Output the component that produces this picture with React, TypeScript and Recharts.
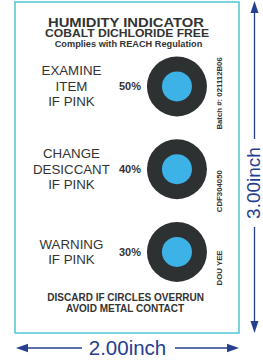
import { ScatterChart, Scatter, XAxis, YAxis, ReferenceArea } from 'recharts';

// humidity levels printed on the card, top to bottom
const levels = [50, 40, 30];
const actions = [
  ['EXAMINE', 'ITEM', 'IF PINK'],
  ['CHANGE', 'DESICCANT', 'IF PINK'],
  ['WARNING', 'IF PINK'],
];
const codes = ['Batch #: 021112B06', 'CDF304050', 'DOU YEE'];
const headerLines = ['HUMIDITY INDICATOR', 'COBALT DICHLORIDE FREE', 'Complies with REACH Regulation'];
const footerLines = ['DISCARD IF CIRCLES OVERRUN', 'AVOID METAL CONTACT'];
const cardWidthIn = 2.0;
const cardHeightIn = 3.0;

const W = 263;
const H = 363;
const margin = { top: 2, right: 24, bottom: 30, left: 15 };
const plotW = W - margin.left - margin.right;
const plotH = H - margin.top - margin.bottom;

// column positions across the card, in inches
const LABEL_COL = 0.504;
const PCT_COL = 1.027;
const DOT_COL = 1.446;
const CODE_COL = 1.82;
const codeShift = [7, 22, 16];

const TEXT = '#333333';
const BLUE = '#25408f';
const CYAN = '#4fc5d5';
const FONT = '"Liberation Sans", Arial, sans-serif';

const rows = levels.map((level, i) => ({ level, pct: `${level}%`, action: actions[i], code: codes[i], idx: i }));

const dotRows = rows.map((r) => ({ ...r, x: DOT_COL }));
const labelRows = rows.map((r) => ({ ...r, x: LABEL_COL }));
const pctRows = rows.map((r) => ({ ...r, x: PCT_COL }));
const codeRows = rows.map((r) => ({ ...r, x: CODE_COL }));

const Indicator = (p: any) => (
  <g>
    <circle cx={p.cx} cy={p.cy} r={30} fill="#2d3131" />
    <circle cx={p.cx} cy={p.cy} r={15} fill="#3cb2e6" />
  </g>
);

const ActionLabel = (p: any) => {
  const lines: string[] = p.payload.action;
  const lh = 15.5;
  const first = p.cy + 4.5 - ((lines.length - 1) * lh) / 2;
  return (
    <text textAnchor="middle" fontFamily={FONT} fontSize={13.3} fill={TEXT}>
      {lines.map((t, i) => (
        <tspan key={i} x={p.cx} y={first + i * lh}>
          {t}
        </tspan>
      ))}
    </text>
  );
};

const PctLabel = (p: any) => (
  <text x={p.cx} y={p.cy + 4} textAnchor="middle" fontFamily={FONT} fontSize={11} fontWeight="bold" fill={TEXT}>
    {p.payload.pct}
  </text>
);

const CodeLabel = (p: any) => {
  const y = p.cy + codeShift[p.payload.idx];
  return (
    <text
      x={p.cx}
      y={y}
      transform={`rotate(-90 ${p.cx} ${y})`}
      textAnchor="middle"
      dy="0.35em"
      fontFamily={FONT}
      fontSize={7.8}
      fontWeight="bold"
      fill={TEXT}
    >
      {p.payload.code}
    </text>
  );
};

export default function App() {
  const cx = margin.left + plotW / 2;
  const right = margin.left + plotW;
  const bottom = margin.top + plotH;
  const vx = 254.5;
  const vMid = 183;
  const hy = 348;
  return (
    <div style={{ position: 'absolute', left: 0, top: 0, width: W, height: H, background: '#fff' }}>
      <ScatterChart width={W} height={H} margin={margin}>
        <XAxis type="number" dataKey="x" domain={[0, cardWidthIn]} hide allowDataOverflow />
        <YAxis type="number" dataKey="level" domain={[20.2, 60.2]} hide allowDataOverflow />
        <ReferenceArea x1={0} x2={cardWidthIn} y1={20.2} y2={60.2} fill="none" stroke={CYAN} strokeWidth={1.5} />
        <Scatter data={dotRows} shape={Indicator} isAnimationActive={false} />
        <Scatter data={labelRows} shape={ActionLabel} isAnimationActive={false} />
        <Scatter data={pctRows} shape={PctLabel} isAnimationActive={false} />
        <Scatter data={codeRows} shape={CodeLabel} isAnimationActive={false} />

        <g fontFamily={FONT} fontWeight="bold" fill={TEXT} textAnchor="middle">
          <text x={126} y={26.5} fontSize={13} textLength={156} lengthAdjust="spacingAndGlyphs">{headerLines[0]}</text>
          <text x={127} y={37.3} fontSize={10.2} textLength={164} lengthAdjust="spacingAndGlyphs">{headerLines[1]}</text>
          <text x={128.5} y={46.7} fontSize={9.2}>{headerLines[2]}</text>
          <text x={125.7} y={301} fontSize={10}>{footerLines[0]}</text>
          <text x={125} y={311.7} fontSize={10}>{footerLines[1]}</text>
        </g>

        {/* dimension arrows */}
        <g stroke={BLUE} strokeWidth={1.3} fill={BLUE}>
          <line x1={vx} y1={10} x2={vx} y2={vMid - 44} />
          <line x1={vx} y1={vMid + 44} x2={vx} y2={bottom - 8} />
          <polygon points={`${vx},1 ${vx - 4},13 ${vx + 4},13`} stroke="none" />
          <polygon points={`${vx},${bottom} ${vx - 4},${bottom - 12} ${vx + 4},${bottom - 12}`} stroke="none" />
          <line x1={margin.left + 8} y1={hy} x2={82} y2={hy} />
          <line x1={175} y1={hy} x2={right - 8} y2={hy} />
          <polygon points={`${margin.left + 1},${hy} ${margin.left + 13},${hy - 4.3} ${margin.left + 13},${hy + 4.3}`} stroke="none" />
          <polygon points={`${right},${hy} ${right - 12},${hy - 4.3} ${right - 12},${hy + 4.3}`} stroke="none" />
        </g>
        <text
          x={vx + 5.5}
          y={vMid}
          transform={`rotate(-90 ${vx + 5.5} ${vMid})`}
          textAnchor="middle"
          fontFamily={FONT}
          fontSize={19}
          fill={BLUE}
        >
          {cardHeightIn.toFixed(2)}inch
        </text>
        <text x={cx + 0.5} y={355} textAnchor="middle" fontFamily={FONT} fontSize={20.5} fill={BLUE}>
          {cardWidthIn.toFixed(2)}inch
        </text>
      </ScatterChart>
    </div>
  );
}
